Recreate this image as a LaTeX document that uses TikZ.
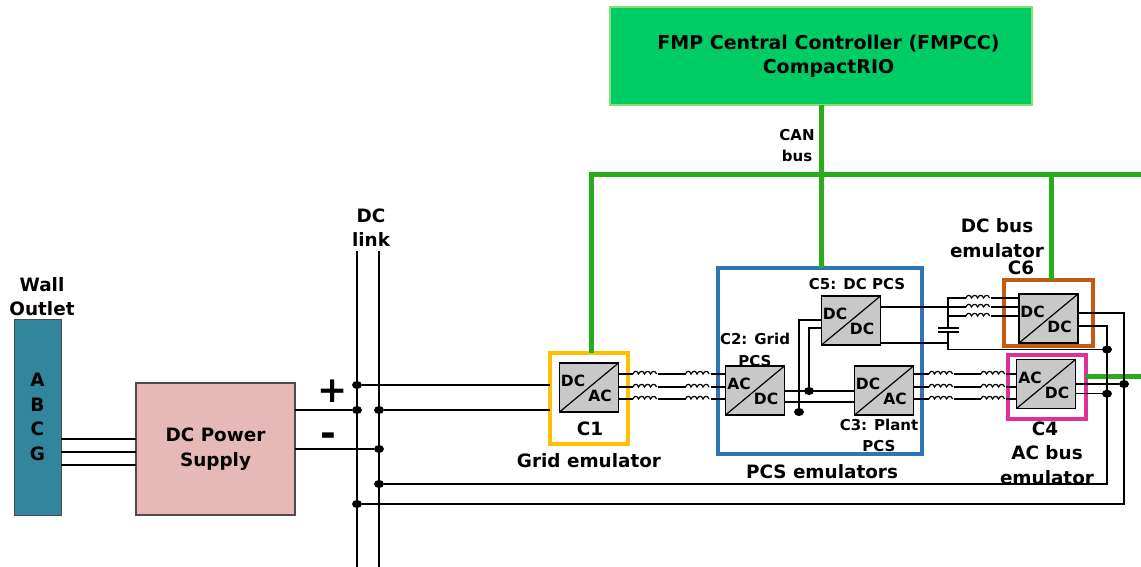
\documentclass[tikz,border=0pt]{standalone}
\usepackage{fontspec}
\setmainfont{DejaVu Sans}
\usetikzlibrary{positioning,shapes.geometric}
\definecolor{fmpgreen}{HTML}{00CC66}
\definecolor{fmpedge}{HTML}{86E070}
\definecolor{cangreen}{HTML}{2AAB1C}
\definecolor{outletteal}{HTML}{31859C}
\definecolor{psupink}{HTML}{E6B8B7}
\definecolor{convgray}{HTML}{C8C8C8}
\definecolor{gridyellow}{HTML}{FFC000}
\definecolor{pcsblue}{HTML}{2E75B6}
\definecolor{dcorange}{HTML}{C55A11}
\definecolor{acpink}{HTML}{DE2F9B}
\newcommand{\convtext}[3]{%
  \node[convlabel,xshift=-16pt,yshift=6.5pt] (#1top) at (#1.center) {#2};
  \node[convlabel,xshift=11pt,yshift=-8.5pt] (#1bot) at (#1.center) {#3};}

\begin{document}
\begin{tikzpicture}[
  x=1pt,y=-1pt,
  every node/.style={font=\bfseries\fontsize{18.4}{24.5}\selectfont,align=center,inner sep=0pt,outer sep=0pt},
  small/.style={font=\bfseries\fontsize{15}{21.5}\selectfont},
  convlabel/.style={font=\bfseries\fontsize{15.5}{16}\selectfont},
  conv/.style={draw,fill=convgray,line width=1.2pt,minimum width=59pt,minimum height=49pt,
    path picture={\draw[line width=1.2pt] (path picture bounding box.south west)--(path picture bounding box.north east);}},
  emubox/.style={draw=#1,line width=4pt},
  wire/.style={line width=1.3pt},
  bus/.style={line width=5pt,cangreen},
  dot/.style={ellipse,fill=black,minimum width=10pt,minimum height=8pt},
  ind/.pic={
    \draw[white,line width=2pt] (-12.5,0)--(12.5,0);
    \draw[line width=1.2pt] (-12.5,0) \foreach \i in {0,1,2,3}
      {.. controls (-11.5+6*\i,-3.5) and (-8+6*\i,-3.5) .. (-7+6*\i,0)};}
]
\useasboundingbox (0,0) rectangle (1141,567);

\node[draw=fmpedge,fill=fmpgreen,line width=1.2pt,minimum width=422pt,minimum height=98pt] (fmp) at (821,56) {};
\node[font=\bfseries\fontsize{19}{24.5}\selectfont] (fmplabel) at (828.5,56.5)
  {FMP Central Controller (FMPCC)\\CompactRIO};

% emulator frames
\node[emubox=gridyellow,minimum width=78pt,minimum height=91pt] (c1box) at (589,398.5) {};
\node[emubox=pcsblue,minimum width=204pt,minimum height=186pt] (pcsbox) at (820,361) {};
\node[emubox=dcorange,minimum width=89pt,minimum height=66pt] (c6box) at (1048.5,313) {};
\node[emubox=acpink,minimum width=78pt,minimum height=64pt] (c4box) at (1047,387) {};

% converters
\node[conv] (c1) at (589,387.5) {};
\node[conv,right=107pt of c1,yshift=-3pt] (c2) {};
\node[conv] (c5) at (851,320.5) {};
\node[conv,right=70pt of c2] (c3) {};
\node[conv] (c6) at (1048.5,318.5) {};
\node[conv] (c4) at (1046,384) {};

% CAN bus
\coordinate (canleft) at (591,175);
\coordinate (canright) at (1141,175);
\coordinate (canjoin) at (821,175);
\coordinate (dcjoin) at (1051,175);
\coordinate (acend) at (1141,376);
\draw[bus] (canright)--(canleft)--(c1box.north -| canleft);
\draw[bus] (fmp.south -| canjoin)--(pcsbox.north -| canjoin);
\draw[bus] (dcjoin)--(c6box.north -| dcjoin);
\draw[bus] (c4box.east |- acend)--(acend);

% left part
\node[draw=black!70,fill=outletteal,line width=1pt,minimum width=47pt,minimum height=196pt] (outlet) at (37.5,417) {A\\B\\C\\G};
\node[draw=black!70,fill=psupink,line width=1.2pt,right=75pt of outlet,yshift=-32pt,minimum width=159pt,minimum height=132pt] (psu) {DC Power\\Supply};
\node (walllabel) at (42,296.5) {Wall\\Outlet};
\foreach \y in {439,452,465}
  {\draw[wire] (outlet.east |- 0,\y)--(psu.west |- 0,\y);}

% DC link
\coordinate (linkatop) at (357,251);
\coordinate (linkbtop) at (379,251);
\coordinate (linkabot) at (357,567);
\coordinate (linkbbot) at (379,567);
\draw[wire] (linkatop)--(linkabot);
\draw[wire] (linkbtop)--(linkbbot);
\node (linklabel) at (371,227.5) {DC\\link};
\node[font=\bfseries\fontsize{36}{36}\selectfont] (plus) at (333,391) {+};
\node[font=\bfseries\fontsize{38}{38}\selectfont] (minus) at (328,440) {-};
\node[dot] (da1) at (357,385) {};
\node[dot] (da2) at (357,410) {};
\node[dot] (db2) at (379,410) {};
\node[dot] (db3) at (379,449) {};
\node[dot] (db4) at (379,484) {};
\node[dot] (da5) at (357,504) {};
\draw[wire] (psu.east |- da2)--(da2);
\draw[wire] (psu.east |- db3)--(db3);
\draw[wire] (da1)--(c1box.west |- da1);
\draw[wire] (db2)--(c1box.west |- db2);

% c1 to c2, c3 to c4
\foreach \y in {374,387,399}{
  \draw[wire] (c1.east |- 0,\y)--(c2.west |- 0,\y);
  \pic at (645.5,\y) {ind};
  \pic at (698,\y) {ind};
  \draw[wire] (c3.east |- 0,\y)--(c4.west |- 0,\y);
  \pic at (941.5,\y) {ind};
  \pic at (993.5,\y) {ind};
}

% c2 to c3 and c5
\node[dot] (d25a) at (809,391) {};
\node[dot] (d25b) at (799,412) {};
\draw[wire] (c2.east |- d25a)--(c3.west |- d25a);
\draw[wire] (c2.east |- 0,402)--(c3.west |- 0,402);
\draw[wire] (d25b)--(d25b |- 0,320)--(c5.west |- 0,320);
\draw[wire] (d25a)--(d25a |- 0,328)--(c5.west |- 0,328);

% c5 to c6
\coordinate (captop) at (948,298);
\coordinate (capup) at (948,328);
\coordinate (capdn) at (948,332);
\coordinate (capbot) at (948,349.5);
\coordinate (capll) at (938,328);
\coordinate (caplr) at (959,328);
\coordinate (capul) at (938,332);
\coordinate (capur) at (959,332);
\node[dot] (dcminus) at (1107,349.5) {};
\node[dot] (acminus) at (1107,393.7) {};
\node[dot] (acplus) at (1124,384) {};
\draw[wire] (capup)--(captop)--(c6.west |- captop);
\draw[wire] (c5.east |- 0,307)--(c6.west |- 0,307);
\draw[wire] (capup |- 0,316)--(c6.west |- 0,316);
\draw[wire] (c5.east |- 0,343)--(capbot |- 0,343);
\draw[wire] (capdn)--(capbot)--(dcminus);
\draw[line width=1.5pt] (capll)--(caplr);
\draw[line width=1.5pt] (capul)--(capur);
\foreach \y in {298,307,316}
  {\pic at (978.5,\y) {ind};}

% c6 and c4 to dc link
\draw[wire] (c6.east |- 0,313)--(acplus |- 0,313)--(acplus |- da5)--(da5);
\draw[wire] (c6.east |- 0,326)--(acminus |- 0,326)--(acminus |- db4)--(db4);
\draw[wire] (c4.east |- acplus)--(acplus);
\draw[wire] (c4.east |- acminus)--(acminus);

\convtext{c1}{DC}{AC}
\convtext{c2}{AC}{DC}
\convtext{c3}{DC}{AC}
\convtext{c4}{AC}{DC}
\convtext{c5}{DC}{DC}
\convtext{c6}{DC}{DC}

% labels
\node (c1label) at (590,429) {C1};
\node (gridlabel) at (589,461) {Grid emulator};
\node (pcslabel) at (822,472) {PCS emulators};
\node[small] (c2label) at (755,350) {C2: Grid\\PCS};
\node[small] (c5label) at (857,284) {C5: DC PCS};
\node[small] (c3label) at (879,435.5) {C3: Plant\\PCS};
\node (dclabel) at (997,238) {DC bus\\emulator};
\node (c6label) at (1021,268) {C6};
\node (c4label) at (1045,429) {C4};
\node (aclabel) at (1047,465) {AC bus\\emulator};
\node[small] (canlabel) at (797,145.5) {CAN\\bus};
\end{tikzpicture}
\end{document}
